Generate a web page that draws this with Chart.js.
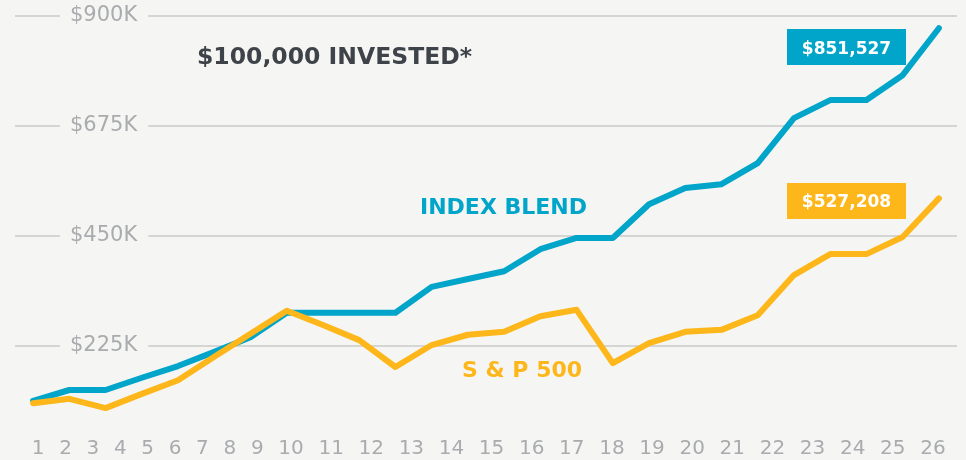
<!DOCTYPE html>
<html>
<head>
<meta charset="utf-8">
<script src="https://cdn.jsdelivr.net/npm/chart.js@4/dist/chart.umd.min.js"></script>
<style>
  html, body { margin: 0; padding: 0; background: #f5f5f3; }
  #wrap { width: 966px; height: 460px; position: relative; }
</style>
</head>
<body>
<div id="wrap"><canvas id="c"></canvas></div>
<script>
// ---- data (values in thousands of dollars) ----
const years = ['1','2','3','4','5','6','7','8','9','10','11','12','13','14','15','16','17','18','19','20','21','22','23','24','25','26'];
const indexBlend = [113,135,135,160,184,213,243,293,293,293,293,346,362,378,423,446,446,515,548,556,599,691,728,728,779,875];
const sp500 = [108,117,98,127,155,203,250,297,268,237,182,227,248,254,286,299,190,231,254,258,288,370,413,413,448,527];
const yTickValues = [0, 225, 450, 675, 900];
const seriesNames = ['INDEX BLEND', 'S & P 500'];
const finalValueLabels = ['$851,527', '$527,208'];
const chartTitle = '$100,000 INVESTED*';

// ---- styles ----
const BG = '#f5f5f3';
const BLUE = '#00a5c9';
const ORANGE = '#fdb71a';
const GRAY = '#a9abae';
const GRID = '#d5d5d4';
const DARK = '#3e4249';
const FONT = '"DejaVu Sans", "Liberation Sans", sans-serif';

// flowing x-axis labels (text laid out with equal gaps between the axis ends)
const flowLabels = {
  id: 'flowLabels',
  afterDraw(chart) {
    const xs = chart.scales.x;
    const ctx = chart.ctx;
    const labels = xs.getLabels();
    ctx.save();
    ctx.font = '20px ' + FONT;
    ctx.fillStyle = GRAY;
    ctx.textBaseline = 'alphabetic';
    ctx.textAlign = 'left';
    const widths = labels.map(l => ctx.measureText(l).width);
    const first = xs.getPixelForTick(0) + 5;
    const last = xs.getPixelForTick(labels.length - 1) - 6;
    const total = widths.reduce((a, b) => a + b, 0) - widths[0] / 2 - widths[widths.length - 1] / 2;
    const gap = (last - first - total) / (labels.length - 1);
    let x = first - widths[0] / 2;
    labels.forEach((l, i) => {
      ctx.fillText(l, x, 454);
      x += widths[i] + gap;
    });
    ctx.restore();
  }
};

// annotation texts and value boxes
const annotations = {
  id: 'annotations',
  afterDatasetsDraw(chart) {
    const ctx = chart.ctx;
    ctx.save();
    ctx.textBaseline = 'alphabetic';
    ctx.textAlign = 'left';
    ctx.font = 'bold 23.5px ' + FONT;
    ctx.fillStyle = DARK;
    ctx.fillText(chartTitle, 197, 64);

    ctx.font = 'bold 22px ' + FONT;
    ctx.fillStyle = BLUE;
    ctx.fillText(seriesNames[0], 420, 214);
    ctx.fillStyle = ORANGE;
    ctx.fillText(seriesNames[1], 462, 377);

    const boxes = [
      { text: finalValueLabels[0], color: BLUE, x: 787, y: 29, base: 54 },
      { text: finalValueLabels[1], color: ORANGE, x: 787, y: 183, base: 207 }
    ];
    boxes.forEach(b => {
      ctx.fillStyle = b.color;
      ctx.fillRect(b.x, b.y, 119, 36);
      ctx.fillStyle = '#ffffff';
      ctx.font = 'bold 17px ' + FONT;
      ctx.textAlign = 'center';
      ctx.fillText(b.text, b.x + 59.5, b.base);
    });
    ctx.restore();
  }
};

new Chart(document.getElementById('c'), {
  type: 'line',
  data: {
    labels: years,
    datasets: [
      {
        label: seriesNames[1],
        data: sp500,
        borderColor: ORANGE,
        borderWidth: 6,
        tension: 0,
        pointRadius: 0,
        borderCapStyle: 'round',
        borderJoinStyle: 'round',
        fill: false
      },
      {
        label: seriesNames[0],
        data: indexBlend,
        borderColor: BLUE,
        borderWidth: 6,
        tension: 0,
        pointRadius: 0,
        borderCapStyle: 'round',
        borderJoinStyle: 'round',
        fill: false
      }
    ]
  },
  options: {
    responsive: true,
    maintainAspectRatio: false,
    animation: false,
    events: [],
    layout: { padding: { left: 15, right: 9, top: 16, bottom: 4 } },
    plugins: {
      legend: { display: false },
      tooltip: { enabled: false },
      title: { display: false }
    },
    scales: {
      x: {
        type: 'category',
        display: false,
        offset: true
      },
      y: {
        position: 'left',
        min: 0,
        max: 900,
        afterBuildTicks: (s) => { s.ticks = yTickValues.map(v => ({ value: v })); },
        afterFit: (s) => { s.width = 0; s.paddingTop = 0; s.paddingBottom = 0; },
        border: { display: false },
        grid: { color: GRID, lineWidth: 2, drawTicks: false, tickLength: 0 },
        ticks: {
          mirror: true,
          padding: 55,
          color: GRAY,
          font: { family: FONT, size: 21 },
          showLabelBackdrop: true,
          backdropColor: BG,
          backdropPadding: { left: 10, right: 11, top: 3, bottom: 3 },
          callback: (v) => v === 0 ? null : '$' + v + 'K'
        }
      }
    }
  },
  plugins: [flowLabels, annotations]
});
</script>
</body>
</html>
